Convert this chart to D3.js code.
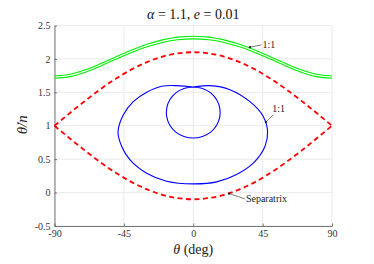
<!DOCTYPE html>
<html>
<head>
<meta charset="utf-8">
<script src="https://cdn.jsdelivr.net/npm/d3@7"></script>
<style>
  body { margin: 0; background: #fff; }
  svg text { font-family: "Liberation Serif", "Times New Roman", serif; }
</style>
</head>
<body>
<div id="chart"></div>
<script>
// axis ticks
var thetaTicks = [-90, -45, 0, 45, 90]
var rateTicks = [-0.5, 0, 0.5, 1, 1.5, 2, 2.5]

// separatrix (red dashed), theta every 10 deg
var sepTheta = [-90,-80,-70,-60,-50,-40,-30,-20,-10,0,10,20,30,40,50,60,70,80,90]
var sepUpper = [1.0,1.191,1.376,1.55,1.707,1.843,1.953,2.034,2.083,2.1,2.083,2.034,1.953,1.843,1.707,1.55,1.376,1.191,1.0]
var sepLower = [1.0,0.809,0.624,0.45,0.293,0.157,0.047,-0.034,-0.083,-0.1,-0.083,-0.034,0.047,0.157,0.293,0.45,0.624,0.809,1.0]

// circulating orbits (green)
var greenTop = [1.745,1.770,1.837,1.930,2.033,2.133,2.219,2.285,2.326,2.34,2.326,2.285,2.219,2.133,2.033,1.930,1.837,1.770,1.745]
var greenBottom = [1.71,1.735,1.802,1.895,1.997,2.095,2.181,2.246,2.286,2.30,2.286,2.246,2.181,2.095,1.997,1.895,1.802,1.735,1.71]

// librating orbit (blue): one closed path, inner loop then outer loop, crossing at the top
var blueTheta = [0,6.0,11.3,15.2,17.2,17.2,15.2,11.3,6.0,0,-6.0,-11.3,-15.2,-17.2,-17.2,-15.2,-11.3,-6.0,
                 0,10.8,23.8,36.8,45.4,48.2,46.5,38.9,28.1,15.2,0,-17.3,-30.2,-41,-46.4,-48.8,-45.4,-38.9,-30.2,-20.5,-10.8]
var blueRate = [1.58,1.557,1.491,1.389,1.264,1.132,1.007,0.905,0.839,0.816,0.839,0.905,1.007,1.132,1.264,1.389,1.491,1.557,
                1.58,1.60,1.54,1.36,1.14,0.915,0.69,0.44,0.27,0.16,0.13,0.17,0.29,0.49,0.69,0.906,1.16,1.36,1.50,1.59,1.60]

var W = 374, H = 264
var margin = {left: 54.5, right: 42, top: 25.5, bottom: 38}
var width = W - margin.left - margin.right,
    height = H - margin.top - margin.bottom

var svg = d3.select("#chart").append("svg")
    .attr("width", W)
    .attr("height", H)

var g = svg.append("g")
    .attr("transform", "translate(" + margin.left + "," + margin.top + ")")

var x = d3.scaleLinear().domain([-90, 90]).range([0, width])
var y = d3.scaleLinear().domain([-0.5, 2.5]).range([height, 0])

// grid
g.selectAll(".gx").data(thetaTicks).enter().append("line")
    .attr("x1", d => x(d)).attr("x2", d => x(d))
    .attr("y1", 0).attr("y2", height)
    .attr("stroke", "#e6e6e6").attr("stroke-width", 0.8)
g.selectAll(".gy").data(rateTicks).enter().append("line")
    .attr("x1", 0).attr("x2", width)
    .attr("y1", d => y(d)).attr("y2", d => y(d))
    .attr("stroke", "#e6e6e6").attr("stroke-width", 0.8)

// axes
var xAxis = d3.axisBottom(x).tickValues(thetaTicks).tickSizeInner(-2.5).tickSizeOuter(0).tickPadding(4)
    .tickFormat(d => String(d))
var yAxis = d3.axisLeft(y).tickValues(rateTicks).tickSizeInner(-2.5).tickSizeOuter(0).tickPadding(4)
    .tickFormat(d => String(d))

var gx = g.append("g").attr("transform", "translate(0," + height + ")").call(xAxis)
var gy = g.append("g").call(yAxis)
;[gx, gy].forEach(function(a){
    a.attr("font-family", null)
    a.select(".domain").attr("stroke", "#555").attr("stroke-width", 0.8)
    a.selectAll(".tick line").attr("stroke", "#555").attr("stroke-width", 0.8)
    a.selectAll(".tick text")
        .attr("fill", "#333")
        .attr("font-size", "10px")
})

// curves
var line = d3.line().x(d => x(d[0])).y(d => y(d[1])).curve(d3.curveMonotoneX)
var loop = d3.line().x(d => x(d[0])).y(d => y(d[1])).curve(d3.curveCatmullRomClosed.alpha(0.5))

function pairs(xs, ys){ return xs.map((v, i) => [v, ys[i]]) }

g.append("path").datum(pairs(sepTheta, greenTop))
    .attr("d", line).attr("fill", "none").attr("stroke", "#00ee00").attr("stroke-width", 1.1)
g.append("path").datum(pairs(sepTheta, greenBottom))
    .attr("d", line).attr("fill", "none").attr("stroke", "#00ee00").attr("stroke-width", 1.1)

g.append("path").datum(pairs(blueTheta, blueRate))
    .attr("d", loop).attr("fill", "none").attr("stroke", "#0000ff").attr("stroke-width", 1.1)

g.append("path").datum(pairs(sepTheta, sepUpper))
    .attr("d", line).attr("fill", "none").attr("stroke", "#ff0000")
    .attr("stroke-width", 1.8).attr("stroke-dasharray", "5,3.5")
g.append("path").datum(pairs(sepTheta, sepLower))
    .attr("d", line).attr("fill", "none").attr("stroke", "#ff0000")
    .attr("stroke-width", 1.8).attr("stroke-dasharray", "5,3.5")

// annotations: [tail theta, tail rate, tip theta, tip rate, text]
var notes = [
    [44.3, 2.21, 36.8, 2.175, "1:1"],
    [51.9, 1.164, 47.1, 1.055, "1:1"],
    [33.5, -0.094, 23.3, -0.015, "Separatrix"]
]
notes.forEach(function(n, i){
    g.append("line")
        .attr("x1", x(n[0])).attr("y1", y(n[1]))
        .attr("x2", x(n[2])).attr("y2", y(n[3]))
        .attr("stroke", "#444").attr("stroke-width", 0.7)
    g.append("circle")
        .attr("cx", x(n[2])).attr("cy", y(n[3])).attr("r", 1.1).attr("fill", "#111")
    var t = g.append("text")
        .attr("font-size", "10px").attr("fill", "#222")
        .text(n[4])
    if (i == 1) {
        t.attr("x", x(n[0]) - 1).attr("y", y(n[1]) - 3)
    } else {
        t.attr("x", x(n[0]) + 1).attr("y", y(n[1]) + 3.5)
    }
})

// title
var title = svg.append("text")
    .attr("x", margin.left + width / 2).attr("y", 19)
    .attr("text-anchor", "middle").attr("font-size", "14px").attr("fill", "#111")
title.append("tspan").attr("font-style", "italic").text("α")
title.append("tspan").text(" = 1.1, ")
title.append("tspan").attr("font-style", "italic").text("e")
title.append("tspan").text(" = 0.01")

// x label
var xl = svg.append("text")
    .attr("x", margin.left + width / 2).attr("y", 254)
    .attr("text-anchor", "middle").attr("font-size", "14px").attr("fill", "#222")
xl.append("tspan").attr("font-style", "italic").text("θ")
xl.append("tspan").text(" (deg)")

// y label
svg.append("text")
    .attr("transform", "translate(27," + (margin.top + height / 2 - 1) + ") rotate(-90)")
    .attr("text-anchor", "middle").attr("font-size", "15px").attr("fill", "#222")
    .attr("font-style", "italic")
    .text("θ̇/n")
</script>
</body>
</html>
